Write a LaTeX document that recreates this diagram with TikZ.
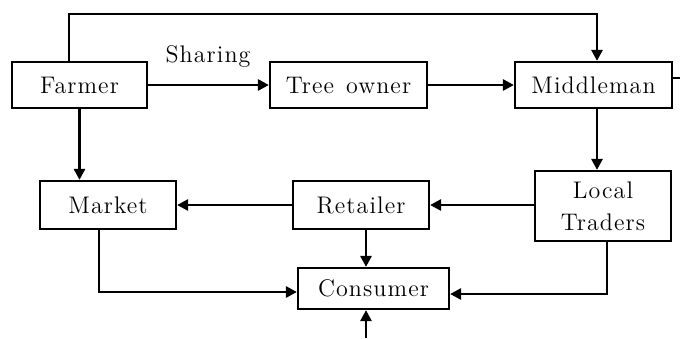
\documentclass[tikz,border=0pt]{standalone}
\usepackage{fontspec}
\newfontfamily\boxfont{Latin Modern Roman}[LetterSpace=4.5]
\usetikzlibrary{arrows.meta}
\begin{document}
\begin{tikzpicture}[x=0.5pt,y=-0.5pt,
  lbl/.style={font=\boxfont\fontsize{12}{16}\selectfont},
  box/.style={draw, line width=1.1pt, inner sep=0pt, align=center, lbl},
  arr/.style={line width=1.4pt, -{Triangle[length=5.5pt,width=5.5pt]}},
  plain/.style={line width=1.4pt}]
\useasboundingbox (0,0) rectangle (680,338);

% boxes
\node[box, minimum width=67.5pt, minimum height=23pt] (farmer) at (79.5,85) {Farmer};
\node[box, minimum width=78.5pt, minimum height=23pt] (tree) at (348.5,85) {Tree\hspace{6pt}owner};
\node[box, minimum width=78.5pt, minimum height=23pt] (middle) at (593.5,85) {Middleman};
\node[box, minimum width=68pt, minimum height=24pt] (market) at (108,205) {Market};
\node[box, minimum width=68pt, minimum height=24pt] (retail) at (361,205) {Retailer};
\node[box, minimum width=68pt, minimum height=35pt] (local) at (603,206) {Local\\Traders};
\node[box, minimum width=75.5pt, minimum height=20.5pt] (cons) at (373.5,288.5) {Consumer};

% label
\node[lbl] (share) at (208,57) {Sharing};

% free ends
\coordinate (stub) at (680,78);
\coordinate (src) at (366,338);

% top row
\draw[arr] ([xshift=-5.25pt]farmer.north) -- ++(0,-47) -| ([xshift=1.75pt]middle.north);
\draw[arr] (farmer.east) -- (tree.west);
\draw[arr] (tree.east) -- (middle.west);
\draw[plain] ([yshift=3.5pt]middle.east) -- (stub);

% downward links
\draw[arr] (farmer.south) -- (farmer.south |- market.north);
\draw[arr] ([xshift=1.75pt]middle.south) -- ([xshift=1.75pt]middle.south |- local.north);

% middle row
\draw[arr] (local.west |- retail.east) -- (retail.east);
\draw[arr] (retail.west) -- (market.east);

% into consumer
\draw[arr] ([xshift=2.5pt]retail.south) -- ([xshift=2.5pt]retail.south |- cons.north);
\draw[arr] ([xshift=-4.5pt]market.south) |- ([yshift=-1.75pt]cons.west);
\draw[arr] ([xshift=2pt]local.south) |- ([yshift=-2.75pt]cons.east);
\draw[arr] (src) -- (src |- cons.south);
\end{tikzpicture}
\end{document}
